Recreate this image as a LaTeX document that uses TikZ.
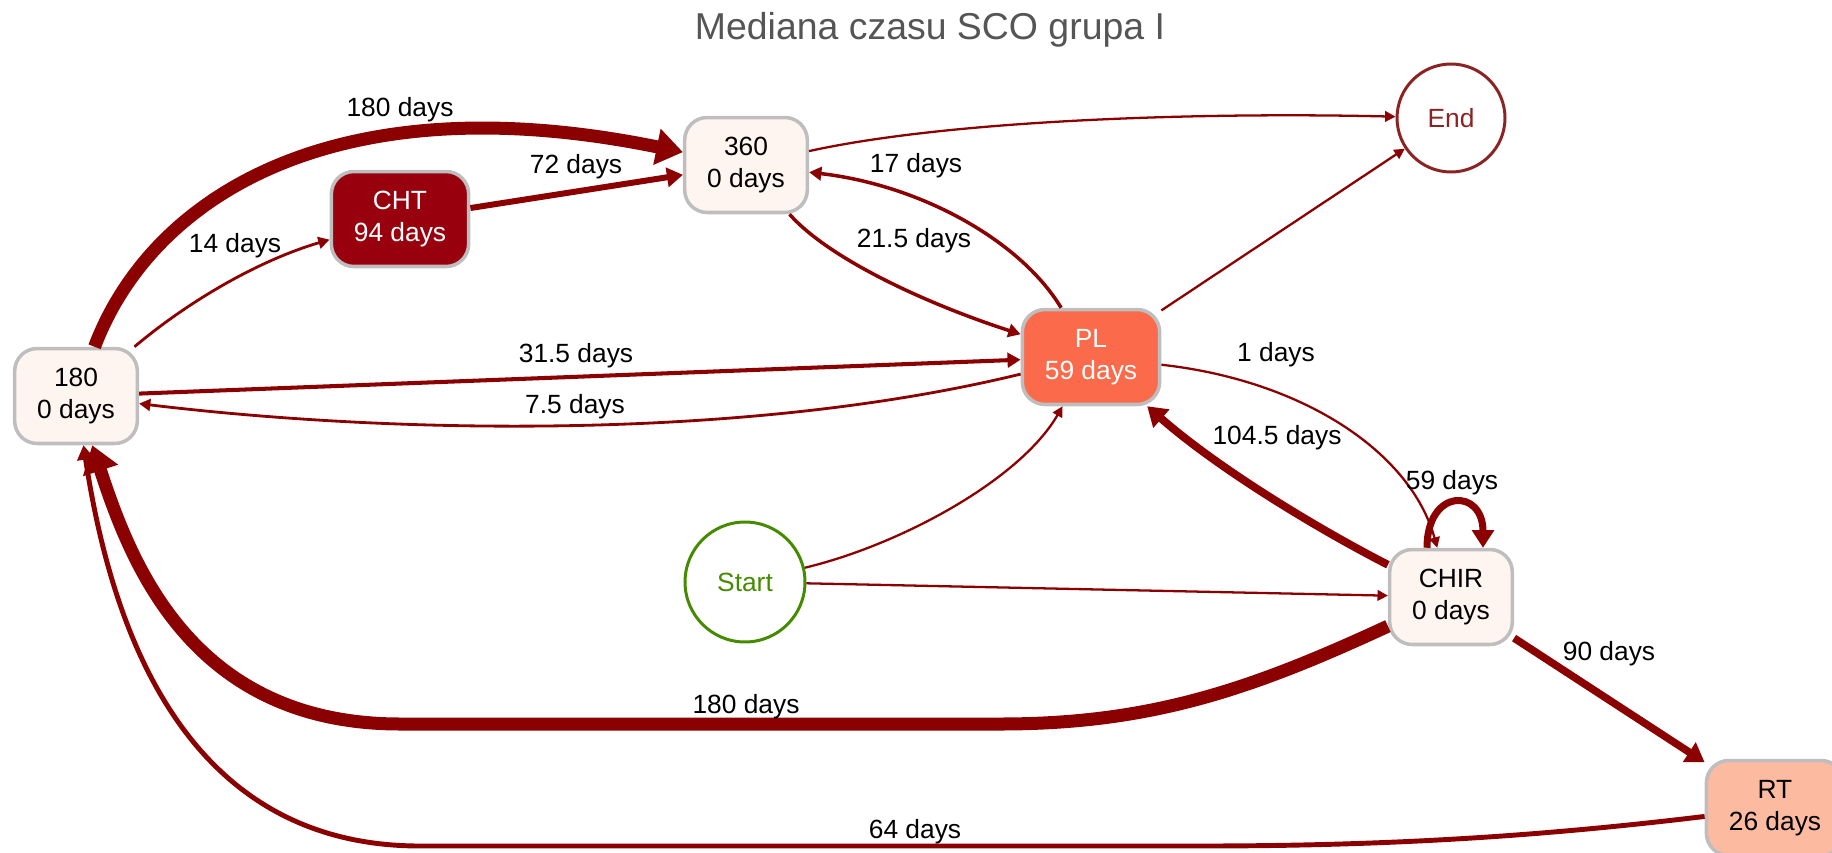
\documentclass[tikz,border=0pt]{standalone}
\usepackage{fontspec}
\setmainfont{Liberation Sans}
\usetikzlibrary{arrows.meta}

\definecolor{edgered}{HTML}{8B0000}
\definecolor{boxgray}{HTML}{BEBEBE}
\definecolor{red1}{HTML}{FFF5F0}
\definecolor{red3}{HTML}{FCBBA1}
\definecolor{red5}{HTML}{FB6A4A}
\definecolor{red9}{HTML}{99000D}
\definecolor{startgreen}{HTML}{458B00}
\definecolor{endbrown}{HTML}{8B2323}
\definecolor{titlegray}{HTML}{555555}

\tikzset{
  act/.style={draw=boxgray, line width=2pt, rounded corners=0.45cm, align=center,
    inner xsep=0.45cm, minimum height=1.9cm, font=\fontsize{15}{18.2}\selectfont},
  ends/.style={circle, line width=1.7pt, inner sep=0pt, font=\fontsize{15}{18}\selectfont},
  lbl/.style={inner sep=0pt, font=\fontsize{15}{18}\selectfont},
  flow/.style={draw=edgered, line width=#1, -{Triangle[length=4pt 1.5,width=3pt 2.3]}},
  flow/.default=1.3pt
}

\begin{document}
\begin{tikzpicture}[x=0.02cm,y=-0.02cm]
\useasboundingbox (0,0) rectangle (1832,852);
\node[font=\fontsize{21.3}{25}\selectfont, text=titlegray] (title) at (930,30) {Mediana czasu SCO grupa I};

% activities
\node[act, fill=red1] (n180) at (76,396) {180\\0 days};
\node[act, fill=red9, text=white] (cht) at (400,219) {CHT\\94 days};
\node[act, fill=red1] (n360) at (746,165) {360\\0 days};
\node[act, fill=red5, text=white] (pl) at (1091,357) {PL\\59 days};
\node[act, fill=red1] (chir) at (1451,597) {CHIR\\0 days};
\node[act, fill=red3] (rt) at (1775,808) {RT\\26 days};
\node[ends, minimum size=2.4cm, draw=startgreen, text=startgreen] (start) at (745,582) {Start};
\node[ends, minimum size=2.16cm, draw=endbrown, text=endbrown] (end) at (1451,118) {End};

% flows
\draw[flow=7.4pt] (n180) .. controls (150,200) and (330,80) .. (n360);
\draw[flow=1.6pt] (n180) .. controls (190,300) and (260,260) .. (cht);
\draw[flow=3.4pt] (cht) -- (n360);
\draw[flow] (n360) .. controls (950,120) and (1200,112) .. (end);
\draw[flow=2pt] (pl) .. controls (1020,240) and (920,185) .. (n360);
\draw[flow=2pt] (n360) .. controls (830,260) and (930,305) .. (pl);
\draw[flow] (pl) -- (end);
\draw[flow=2.3pt] (n180) -- (pl);
\draw[flow=1.6pt] (pl) .. controls (750,440) and (400,435) .. (n180);
\draw[flow] (pl) .. controls (1300,380) and (1410,450) .. (chir);
\draw[flow=4.5pt] (chir) .. controls (1320,530) and (1220,470) .. (pl);
\draw[flow=4pt] ([xshift=-0.48cm]chir.north) .. controls +(0,-60) and +(0,-60) .. ([xshift=0.64cm]chir.north);
\draw[flow] (start) .. controls (900,545) and (1020,480) .. (pl);
\draw[flow] (start) -- (chir);
\draw[flow=7.4pt] (chir) .. controls (1250,690) and (1150,724) .. (1000,724) -- (400,724)
  .. controls (190,724) and (130,560) .. (n180);
\draw[flow=2.8pt] (rt) .. controls (1550,835) and (1400,846) .. (1200,846) -- (420,846)
  .. controls (180,846) and (110,620) .. (n180);
\draw[flow=4.3pt] (chir) -- (rt);

% durations
\foreach \i/\x/\y/\v in {d1/400/110/180 days, d2/235/246/14 days, d3/576/167/72 days,
    d4/916/166/17 days, d5/914/241/21.5 days, d6/576/356/31.5 days, d7/575/407/7.5 days,
    d8/1276/355/1 days, d9/1277/438/104.5 days, d10/1452/483/59 days,
    d11/746/707/180 days, d12/915/832/64 days, d13/1609/654/90 days}
  \node[lbl] (\i) at (\x,\y) {\v};
\end{tikzpicture}
\end{document}
